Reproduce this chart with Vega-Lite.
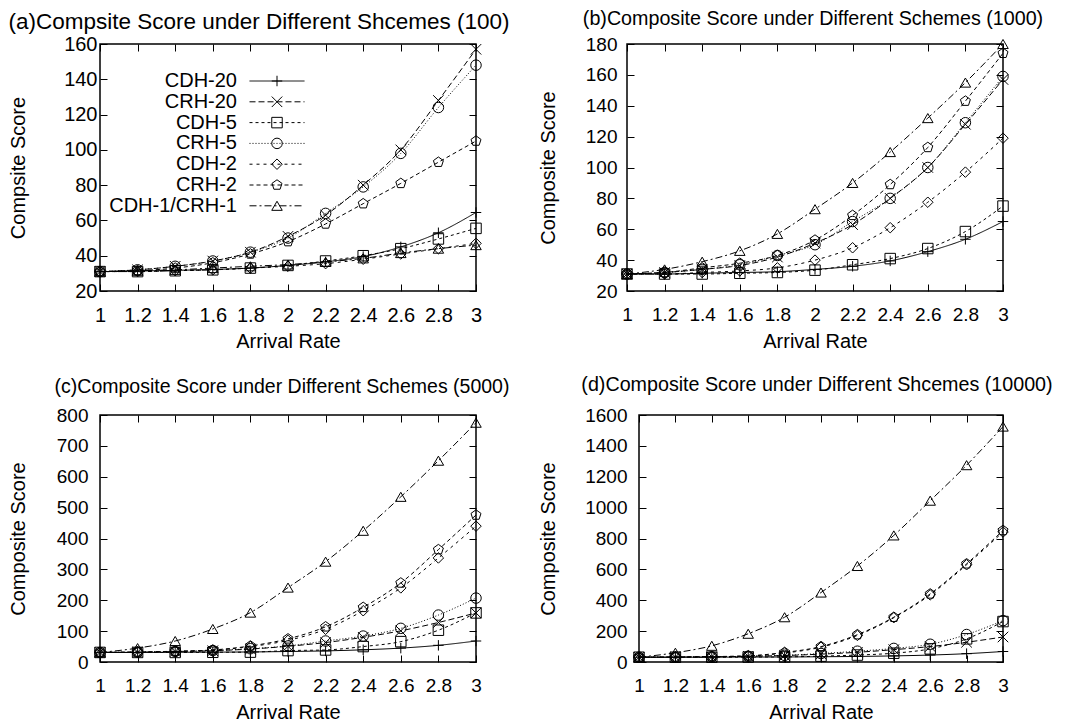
{
 "$schema": "https://vega.github.io/schema/vega-lite/v6.json",
 "padding": {"left": 7, "top": 8, "right": 0, "bottom": 0},
 "background": "white",
 "config": {
  "font": "Liberation Sans",
  "view": {"stroke": "black", "strokeWidth": 1.5},
  "axis": {"domain": false, "grid": false, "ticks": true, "tickSize": -7, "tickColor": "black", "tickWidth": 1, "labelColor": "black", "labelFontSize": 19, "titleColor": "black", "titleFontSize": 20, "titleFontWeight": "normal", "labelFlush": false, "labelOverlap": false},
  "title": {"fontWeight": "normal", "color": "black", "anchor": "middle", "frame": "group", "baseline": "alphabetic"}
 },
 "data": {"values": [
  {"panel":"a","series":"CDH-20","rate":1,"score":31},{"panel":"a","series":"CDH-20","rate":1.2,"score":31.3},{"panel":"a","series":"CDH-20","rate":1.4,"score":31.7},{"panel":"a","series":"CDH-20","rate":1.6,"score":32.2},{"panel":"a","series":"CDH-20","rate":1.8,"score":33},{"panel":"a","series":"CDH-20","rate":2,"score":34.5},{"panel":"a","series":"CDH-20","rate":2.2,"score":36.5},{"panel":"a","series":"CDH-20","rate":2.4,"score":39.5},{"panel":"a","series":"CDH-20","rate":2.6,"score":45},{"panel":"a","series":"CDH-20","rate":2.8,"score":53},{"panel":"a","series":"CDH-20","rate":3,"score":64.5},
  {"panel":"a","series":"CRH-20","rate":1,"score":31},{"panel":"a","series":"CRH-20","rate":1.2,"score":32},{"panel":"a","series":"CRH-20","rate":1.4,"score":34},{"panel":"a","series":"CRH-20","rate":1.6,"score":37},{"panel":"a","series":"CRH-20","rate":1.8,"score":42},{"panel":"a","series":"CRH-20","rate":2,"score":51},{"panel":"a","series":"CRH-20","rate":2.2,"score":63},{"panel":"a","series":"CRH-20","rate":2.4,"score":80},{"panel":"a","series":"CRH-20","rate":2.6,"score":100},{"panel":"a","series":"CRH-20","rate":2.8,"score":128},{"panel":"a","series":"CRH-20","rate":3,"score":157},
  {"panel":"a","series":"CDH-5","rate":1,"score":31},{"panel":"a","series":"CDH-5","rate":1.2,"score":31},{"panel":"a","series":"CDH-5","rate":1.4,"score":31.5},{"panel":"a","series":"CDH-5","rate":1.6,"score":32},{"panel":"a","series":"CDH-5","rate":1.8,"score":33},{"panel":"a","series":"CDH-5","rate":2,"score":34.5},{"panel":"a","series":"CDH-5","rate":2.2,"score":37},{"panel":"a","series":"CDH-5","rate":2.4,"score":40},{"panel":"a","series":"CDH-5","rate":2.6,"score":44},{"panel":"a","series":"CDH-5","rate":2.8,"score":49.5},{"panel":"a","series":"CDH-5","rate":3,"score":55.5},
  {"panel":"a","series":"CRH-5","rate":1,"score":31},{"panel":"a","series":"CRH-5","rate":1.2,"score":32},{"panel":"a","series":"CRH-5","rate":1.4,"score":34},{"panel":"a","series":"CRH-5","rate":1.6,"score":37},{"panel":"a","series":"CRH-5","rate":1.8,"score":42},{"panel":"a","series":"CRH-5","rate":2,"score":50},{"panel":"a","series":"CRH-5","rate":2.2,"score":64},{"panel":"a","series":"CRH-5","rate":2.4,"score":79},{"panel":"a","series":"CRH-5","rate":2.6,"score":98},{"panel":"a","series":"CRH-5","rate":2.8,"score":124},{"panel":"a","series":"CRH-5","rate":3,"score":148},
  {"panel":"a","series":"CDH-2","rate":1,"score":31},{"panel":"a","series":"CDH-2","rate":1.2,"score":31},{"panel":"a","series":"CDH-2","rate":1.4,"score":31.5},{"panel":"a","series":"CDH-2","rate":1.6,"score":32},{"panel":"a","series":"CDH-2","rate":1.8,"score":33},{"panel":"a","series":"CDH-2","rate":2,"score":34},{"panel":"a","series":"CDH-2","rate":2.2,"score":35.5},{"panel":"a","series":"CDH-2","rate":2.4,"score":38},{"panel":"a","series":"CDH-2","rate":2.6,"score":41},{"panel":"a","series":"CDH-2","rate":2.8,"score":44},{"panel":"a","series":"CDH-2","rate":3,"score":47},
  {"panel":"a","series":"CRH-2","rate":1,"score":31},{"panel":"a","series":"CRH-2","rate":1.2,"score":31.5},{"panel":"a","series":"CRH-2","rate":1.4,"score":33},{"panel":"a","series":"CRH-2","rate":1.6,"score":36},{"panel":"a","series":"CRH-2","rate":1.8,"score":41},{"panel":"a","series":"CRH-2","rate":2,"score":48},{"panel":"a","series":"CRH-2","rate":2.2,"score":58},{"panel":"a","series":"CRH-2","rate":2.4,"score":69.5},{"panel":"a","series":"CRH-2","rate":2.6,"score":81},{"panel":"a","series":"CRH-2","rate":2.8,"score":93},{"panel":"a","series":"CRH-2","rate":3,"score":105},
  {"panel":"a","series":"CDH-1/CRH-1","rate":1,"score":31},{"panel":"a","series":"CDH-1/CRH-1","rate":1.2,"score":31.5},{"panel":"a","series":"CDH-1/CRH-1","rate":1.4,"score":32},{"panel":"a","series":"CDH-1/CRH-1","rate":1.6,"score":33},{"panel":"a","series":"CDH-1/CRH-1","rate":1.8,"score":34},{"panel":"a","series":"CDH-1/CRH-1","rate":2,"score":35},{"panel":"a","series":"CDH-1/CRH-1","rate":2.2,"score":36.5},{"panel":"a","series":"CDH-1/CRH-1","rate":2.4,"score":38.5},{"panel":"a","series":"CDH-1/CRH-1","rate":2.6,"score":41.5},{"panel":"a","series":"CDH-1/CRH-1","rate":2.8,"score":44},{"panel":"a","series":"CDH-1/CRH-1","rate":3,"score":46},

  {"panel":"b","series":"CDH-20","rate":1,"score":31},{"panel":"b","series":"CDH-20","rate":1.2,"score":31},{"panel":"b","series":"CDH-20","rate":1.4,"score":31.5},{"panel":"b","series":"CDH-20","rate":1.6,"score":32},{"panel":"b","series":"CDH-20","rate":1.8,"score":32.5},{"panel":"b","series":"CDH-20","rate":2,"score":34},{"panel":"b","series":"CDH-20","rate":2.2,"score":36},{"panel":"b","series":"CDH-20","rate":2.4,"score":39.5},{"panel":"b","series":"CDH-20","rate":2.6,"score":45.5},{"panel":"b","series":"CDH-20","rate":2.8,"score":53.5},{"panel":"b","series":"CDH-20","rate":3,"score":65},
  {"panel":"b","series":"CRH-20","rate":1,"score":31},{"panel":"b","series":"CRH-20","rate":1.2,"score":32},{"panel":"b","series":"CRH-20","rate":1.4,"score":34},{"panel":"b","series":"CRH-20","rate":1.6,"score":36.5},{"panel":"b","series":"CRH-20","rate":1.8,"score":42},{"panel":"b","series":"CRH-20","rate":2,"score":51},{"panel":"b","series":"CRH-20","rate":2.2,"score":63},{"panel":"b","series":"CRH-20","rate":2.4,"score":80},{"panel":"b","series":"CRH-20","rate":2.6,"score":100},{"panel":"b","series":"CRH-20","rate":2.8,"score":128},{"panel":"b","series":"CRH-20","rate":3,"score":157},
  {"panel":"b","series":"CDH-5","rate":1,"score":31},{"panel":"b","series":"CDH-5","rate":1.2,"score":31},{"panel":"b","series":"CDH-5","rate":1.4,"score":31},{"panel":"b","series":"CDH-5","rate":1.6,"score":31.5},{"panel":"b","series":"CDH-5","rate":1.8,"score":32},{"panel":"b","series":"CDH-5","rate":2,"score":33.5},{"panel":"b","series":"CDH-5","rate":2.2,"score":37},{"panel":"b","series":"CDH-5","rate":2.4,"score":41},{"panel":"b","series":"CDH-5","rate":2.6,"score":47.5},{"panel":"b","series":"CDH-5","rate":2.8,"score":58.5},{"panel":"b","series":"CDH-5","rate":3,"score":75},
  {"panel":"b","series":"CRH-5","rate":1,"score":31},{"panel":"b","series":"CRH-5","rate":1.2,"score":32},{"panel":"b","series":"CRH-5","rate":1.4,"score":34},{"panel":"b","series":"CRH-5","rate":1.6,"score":37},{"panel":"b","series":"CRH-5","rate":1.8,"score":43},{"panel":"b","series":"CRH-5","rate":2,"score":50},{"panel":"b","series":"CRH-5","rate":2.2,"score":65},{"panel":"b","series":"CRH-5","rate":2.4,"score":80},{"panel":"b","series":"CRH-5","rate":2.6,"score":100},{"panel":"b","series":"CRH-5","rate":2.8,"score":129},{"panel":"b","series":"CRH-5","rate":3,"score":159},
  {"panel":"b","series":"CDH-2","rate":1,"score":31},{"panel":"b","series":"CDH-2","rate":1.2,"score":31},{"panel":"b","series":"CDH-2","rate":1.4,"score":32},{"panel":"b","series":"CDH-2","rate":1.6,"score":33},{"panel":"b","series":"CDH-2","rate":1.8,"score":35},{"panel":"b","series":"CDH-2","rate":2,"score":40},{"panel":"b","series":"CDH-2","rate":2.2,"score":48},{"panel":"b","series":"CDH-2","rate":2.4,"score":61},{"panel":"b","series":"CDH-2","rate":2.6,"score":77.5},{"panel":"b","series":"CDH-2","rate":2.8,"score":97},{"panel":"b","series":"CDH-2","rate":3,"score":119},
  {"panel":"b","series":"CRH-2","rate":1,"score":31},{"panel":"b","series":"CRH-2","rate":1.2,"score":32},{"panel":"b","series":"CRH-2","rate":1.4,"score":35},{"panel":"b","series":"CRH-2","rate":1.6,"score":38},{"panel":"b","series":"CRH-2","rate":1.8,"score":43},{"panel":"b","series":"CRH-2","rate":2,"score":53},{"panel":"b","series":"CRH-2","rate":2.2,"score":69},{"panel":"b","series":"CRH-2","rate":2.4,"score":89},{"panel":"b","series":"CRH-2","rate":2.6,"score":113},{"panel":"b","series":"CRH-2","rate":2.8,"score":143},{"panel":"b","series":"CRH-2","rate":3,"score":174},
  {"panel":"b","series":"CDH-1/CRH-1","rate":1,"score":31},{"panel":"b","series":"CDH-1/CRH-1","rate":1.2,"score":34},{"panel":"b","series":"CDH-1/CRH-1","rate":1.4,"score":39},{"panel":"b","series":"CDH-1/CRH-1","rate":1.6,"score":46},{"panel":"b","series":"CDH-1/CRH-1","rate":1.8,"score":57},{"panel":"b","series":"CDH-1/CRH-1","rate":2,"score":73},{"panel":"b","series":"CDH-1/CRH-1","rate":2.2,"score":90},{"panel":"b","series":"CDH-1/CRH-1","rate":2.4,"score":110},{"panel":"b","series":"CDH-1/CRH-1","rate":2.6,"score":132},{"panel":"b","series":"CDH-1/CRH-1","rate":2.8,"score":155},{"panel":"b","series":"CDH-1/CRH-1","rate":3,"score":180},

  {"panel":"c","series":"CDH-20","rate":1,"score":31},{"panel":"c","series":"CDH-20","rate":1.2,"score":31},{"panel":"c","series":"CDH-20","rate":1.4,"score":31.5},{"panel":"c","series":"CDH-20","rate":1.6,"score":32},{"panel":"c","series":"CDH-20","rate":1.8,"score":32.5},{"panel":"c","series":"CDH-20","rate":2,"score":34},{"panel":"c","series":"CDH-20","rate":2.2,"score":36},{"panel":"c","series":"CDH-20","rate":2.4,"score":39.5},{"panel":"c","series":"CDH-20","rate":2.6,"score":45},{"panel":"c","series":"CDH-20","rate":2.8,"score":54},{"panel":"c","series":"CDH-20","rate":3,"score":68},
  {"panel":"c","series":"CRH-20","rate":1,"score":31},{"panel":"c","series":"CRH-20","rate":1.2,"score":32},{"panel":"c","series":"CRH-20","rate":1.4,"score":34},{"panel":"c","series":"CRH-20","rate":1.6,"score":36.5},{"panel":"c","series":"CRH-20","rate":1.8,"score":42},{"panel":"c","series":"CRH-20","rate":2,"score":51},{"panel":"c","series":"CRH-20","rate":2.2,"score":63},{"panel":"c","series":"CRH-20","rate":2.4,"score":80},{"panel":"c","series":"CRH-20","rate":2.6,"score":101},{"panel":"c","series":"CRH-20","rate":2.8,"score":128},{"panel":"c","series":"CRH-20","rate":3,"score":159},
  {"panel":"c","series":"CDH-5","rate":1,"score":31},{"panel":"c","series":"CDH-5","rate":1.2,"score":31},{"panel":"c","series":"CDH-5","rate":1.4,"score":31},{"panel":"c","series":"CDH-5","rate":1.6,"score":31.5},{"panel":"c","series":"CDH-5","rate":1.8,"score":32},{"panel":"c","series":"CDH-5","rate":2,"score":37},{"panel":"c","series":"CDH-5","rate":2.2,"score":39},{"panel":"c","series":"CDH-5","rate":2.4,"score":50},{"panel":"c","series":"CDH-5","rate":2.6,"score":66},{"panel":"c","series":"CDH-5","rate":2.8,"score":103},{"panel":"c","series":"CDH-5","rate":3,"score":159},
  {"panel":"c","series":"CRH-5","rate":1,"score":31},{"panel":"c","series":"CRH-5","rate":1.2,"score":32},{"panel":"c","series":"CRH-5","rate":1.4,"score":34},{"panel":"c","series":"CRH-5","rate":1.6,"score":37},{"panel":"c","series":"CRH-5","rate":1.8,"score":43},{"panel":"c","series":"CRH-5","rate":2,"score":52},{"panel":"c","series":"CRH-5","rate":2.2,"score":68},{"panel":"c","series":"CRH-5","rate":2.4,"score":84},{"panel":"c","series":"CRH-5","rate":2.6,"score":109},{"panel":"c","series":"CRH-5","rate":2.8,"score":152},{"panel":"c","series":"CRH-5","rate":3,"score":207},
  {"panel":"c","series":"CDH-2","rate":1,"score":31},{"panel":"c","series":"CDH-2","rate":1.2,"score":32},{"panel":"c","series":"CDH-2","rate":1.4,"score":34},{"panel":"c","series":"CDH-2","rate":1.6,"score":38},{"panel":"c","series":"CDH-2","rate":1.8,"score":50},{"panel":"c","series":"CDH-2","rate":2,"score":70},{"panel":"c","series":"CDH-2","rate":2.2,"score":106},{"panel":"c","series":"CDH-2","rate":2.4,"score":166},{"panel":"c","series":"CDH-2","rate":2.6,"score":240},{"panel":"c","series":"CDH-2","rate":2.8,"score":337},{"panel":"c","series":"CDH-2","rate":3,"score":440},
  {"panel":"c","series":"CRH-2","rate":1,"score":31},{"panel":"c","series":"CRH-2","rate":1.2,"score":32},{"panel":"c","series":"CRH-2","rate":1.4,"score":35},{"panel":"c","series":"CRH-2","rate":1.6,"score":39},{"panel":"c","series":"CRH-2","rate":1.8,"score":52},{"panel":"c","series":"CRH-2","rate":2,"score":75},{"panel":"c","series":"CRH-2","rate":2.2,"score":114},{"panel":"c","series":"CRH-2","rate":2.4,"score":177},{"panel":"c","series":"CRH-2","rate":2.6,"score":256},{"panel":"c","series":"CRH-2","rate":2.8,"score":364},{"panel":"c","series":"CRH-2","rate":3,"score":476},
  {"panel":"c","series":"CDH-1/CRH-1","rate":1,"score":31},{"panel":"c","series":"CDH-1/CRH-1","rate":1.2,"score":45},{"panel":"c","series":"CDH-1/CRH-1","rate":1.4,"score":68},{"panel":"c","series":"CDH-1/CRH-1","rate":1.6,"score":107},{"panel":"c","series":"CDH-1/CRH-1","rate":1.8,"score":160},{"panel":"c","series":"CDH-1/CRH-1","rate":2,"score":241},{"panel":"c","series":"CDH-1/CRH-1","rate":2.2,"score":325},{"panel":"c","series":"CDH-1/CRH-1","rate":2.4,"score":425},{"panel":"c","series":"CDH-1/CRH-1","rate":2.6,"score":535},{"panel":"c","series":"CDH-1/CRH-1","rate":2.8,"score":652},{"panel":"c","series":"CDH-1/CRH-1","rate":3,"score":775},

  {"panel":"d","series":"CDH-20","rate":1,"score":31},{"panel":"d","series":"CDH-20","rate":1.2,"score":31},{"panel":"d","series":"CDH-20","rate":1.4,"score":31.5},{"panel":"d","series":"CDH-20","rate":1.6,"score":32},{"panel":"d","series":"CDH-20","rate":1.8,"score":32.5},{"panel":"d","series":"CDH-20","rate":2,"score":34},{"panel":"d","series":"CDH-20","rate":2.2,"score":36},{"panel":"d","series":"CDH-20","rate":2.4,"score":39.5},{"panel":"d","series":"CDH-20","rate":2.6,"score":45},{"panel":"d","series":"CDH-20","rate":2.8,"score":54},{"panel":"d","series":"CDH-20","rate":3,"score":68},
  {"panel":"d","series":"CRH-20","rate":1,"score":31},{"panel":"d","series":"CRH-20","rate":1.2,"score":32},{"panel":"d","series":"CRH-20","rate":1.4,"score":34},{"panel":"d","series":"CRH-20","rate":1.6,"score":37},{"panel":"d","series":"CRH-20","rate":1.8,"score":42},{"panel":"d","series":"CRH-20","rate":2,"score":51},{"panel":"d","series":"CRH-20","rate":2.2,"score":63},{"panel":"d","series":"CRH-20","rate":2.4,"score":80},{"panel":"d","series":"CRH-20","rate":2.6,"score":100},{"panel":"d","series":"CRH-20","rate":2.8,"score":128},{"panel":"d","series":"CRH-20","rate":3,"score":162},
  {"panel":"d","series":"CDH-5","rate":1,"score":31},{"panel":"d","series":"CDH-5","rate":1.2,"score":31},{"panel":"d","series":"CDH-5","rate":1.4,"score":31},{"panel":"d","series":"CDH-5","rate":1.6,"score":32},{"panel":"d","series":"CDH-5","rate":1.8,"score":33},{"panel":"d","series":"CDH-5","rate":2,"score":38},{"panel":"d","series":"CDH-5","rate":2.2,"score":45},{"panel":"d","series":"CDH-5","rate":2.4,"score":57},{"panel":"d","series":"CDH-5","rate":2.6,"score":85},{"panel":"d","series":"CDH-5","rate":2.8,"score":150},{"panel":"d","series":"CDH-5","rate":3,"score":262},
  {"panel":"d","series":"CRH-5","rate":1,"score":31},{"panel":"d","series":"CRH-5","rate":1.2,"score":32},{"panel":"d","series":"CRH-5","rate":1.4,"score":34},{"panel":"d","series":"CRH-5","rate":1.6,"score":37},{"panel":"d","series":"CRH-5","rate":1.8,"score":43},{"panel":"d","series":"CRH-5","rate":2,"score":55},{"panel":"d","series":"CRH-5","rate":2.2,"score":70},{"panel":"d","series":"CRH-5","rate":2.4,"score":88},{"panel":"d","series":"CRH-5","rate":2.6,"score":115},{"panel":"d","series":"CRH-5","rate":2.8,"score":178},{"panel":"d","series":"CRH-5","rate":3,"score":268},
  {"panel":"d","series":"CDH-2","rate":1,"score":31},{"panel":"d","series":"CDH-2","rate":1.2,"score":32},{"panel":"d","series":"CDH-2","rate":1.4,"score":34},{"panel":"d","series":"CDH-2","rate":1.6,"score":39},{"panel":"d","series":"CDH-2","rate":1.8,"score":58},{"panel":"d","series":"CDH-2","rate":2,"score":96},{"panel":"d","series":"CDH-2","rate":2.2,"score":172},{"panel":"d","series":"CDH-2","rate":2.4,"score":287},{"panel":"d","series":"CDH-2","rate":2.6,"score":435},{"panel":"d","series":"CDH-2","rate":2.8,"score":630},{"panel":"d","series":"CDH-2","rate":3,"score":842},
  {"panel":"d","series":"CRH-2","rate":1,"score":31},{"panel":"d","series":"CRH-2","rate":1.2,"score":32},{"panel":"d","series":"CRH-2","rate":1.4,"score":35},{"panel":"d","series":"CRH-2","rate":1.6,"score":40},{"panel":"d","series":"CRH-2","rate":1.8,"score":62},{"panel":"d","series":"CRH-2","rate":2,"score":100},{"panel":"d","series":"CRH-2","rate":2.2,"score":177},{"panel":"d","series":"CRH-2","rate":2.4,"score":290},{"panel":"d","series":"CRH-2","rate":2.6,"score":441},{"panel":"d","series":"CRH-2","rate":2.8,"score":636},{"panel":"d","series":"CRH-2","rate":3,"score":852},
  {"panel":"d","series":"CDH-1/CRH-1","rate":1,"score":31},{"panel":"d","series":"CDH-1/CRH-1","rate":1.2,"score":60},{"panel":"d","series":"CDH-1/CRH-1","rate":1.4,"score":105},{"panel":"d","series":"CDH-1/CRH-1","rate":1.6,"score":183},{"panel":"d","series":"CDH-1/CRH-1","rate":1.8,"score":290},{"panel":"d","series":"CDH-1/CRH-1","rate":2,"score":450},{"panel":"d","series":"CDH-1/CRH-1","rate":2.2,"score":622},{"panel":"d","series":"CDH-1/CRH-1","rate":2.4,"score":820},{"panel":"d","series":"CDH-1/CRH-1","rate":2.6,"score":1045},{"panel":"d","series":"CDH-1/CRH-1","rate":2.8,"score":1275},{"panel":"d","series":"CDH-1/CRH-1","rate":3,"score":1525}
 ]},
 "spacing": 22,
 "resolve": {"scale": {"strokeDash": "independent", "shape": "independent"}},
 "vconcat": [
  {
   "spacing": 26,
   "resolve": {"scale": {"strokeDash": "independent", "shape": "independent"}},
   "hconcat": [
    {
     "width": 376, "height": 247,
     "title": {"text": "(a)Compsite Score under Different Shcemes (100)", "fontSize": 22.5, "dx": -29, "offset": 1},
     "transform": [{"filter": "datum.panel === 'a'"}],
     "layer": [
      {
       "mark": {"type": "line", "interpolate": "monotone", "stroke": "black", "strokeWidth": 1},
       "encoding": {
        "x": {"field": "rate", "type": "quantitative", "scale": {"domain": [1, 3], "nice": false, "zero": false},
              "axis": {"orient": "bottom", "values": [1,1.2,1.4,1.6,1.8,2,2.2,2.4,2.6,2.8,3], "format": "~g", "title": "Arrival Rate", "titleY": 50, "titleBaseline": "middle", "labelPadding": 21.6, "labelFontSize": 20}},
        "y": {"field": "score", "type": "quantitative", "scale": {"domain": [20, 160], "nice": false, "zero": false},
              "axis": {"orient": "left", "values": [20,40,60,80,100,120,140,160], "format": "d", "title": "Compsite Score", "titleX": -82, "titleBaseline": "middle", "labelPadding": 10, "labelFontSize": 20}},
        "strokeDash": {"field": "series", "type": "nominal",
          "scale": {"domain": ["CDH-20","CRH-20","CDH-5","CRH-5","CDH-2","CRH-2","CDH-1/CRH-1"], "range": [[1,0],[6,3],[3,3],[1,2],[3,4],[4,3],[7,3,2,3]]},
          "legend": {"orient": "none", "legendX": 167, "legendY": 27, "title": null, "symbolType": "M-5,0H5", "symbolSize": 121, "symbolStrokeColor": "black", "symbolStrokeWidth": 1, "labelAlign": "right", "labelOffset": -50, "labelFontSize": 20, "labelColor": "black", "labelLimit": 300, "rowPadding": 0.8, "padding": 0}}
       }
      },
      {
       "mark": {"type": "point", "filled": false, "stroke": "black", "strokeWidth": 1, "size": 110, "opacity": 1},
       "encoding": {
        "x": {"field": "rate", "type": "quantitative", "axis": {"orient": "top", "values": [1,1.2,1.4,1.6,1.8,2,2.2,2.4,2.6,2.8,3], "labels": false, "title": null}},
        "y": {"field": "score", "type": "quantitative", "axis": {"orient": "right", "values": [20,40,60,80,100,120,140,160], "labels": false, "title": null}},
        "shape": {"field": "series", "type": "nominal",
          "scale": {"domain": ["CDH-20","CRH-20","CDH-5","CRH-5","CDH-2","CRH-2","CDH-1/CRH-1"], "range": ["M-1,0H1M0,-1V1","M-1,-1L1,1M-1,1L1,-1","square","circle","diamond","M0,-1L0.951,-0.309L0.588,0.809L-0.588,0.809L-0.951,-0.309Z","triangle-up"]},
          "legend": {"orient": "top-left", "offset": 27, "title": null, "symbolSize": 110, "symbolStrokeColor": "black", "symbolStrokeWidth": 1, "symbolFillColor": "transparent", "symbolOffset": 140, "labelFontSize": 20, "labelOpacity": 0, "rowPadding": 0.8, "padding": 0}}
       }
      }
     ]
    },
    {
     "width": 376, "height": 247,
     "title": {"text": "(b)Composite Score under Different Schemes (1000)", "fontSize": 19.7, "dx": -2, "offset": 6},
     "transform": [{"filter": "datum.panel === 'b'"}],
     "layer": [
      {
       "mark": {"type": "line", "interpolate": "monotone", "stroke": "black", "strokeWidth": 1},
       "encoding": {
        "x": {"field": "rate", "type": "quantitative", "scale": {"domain": [1, 3], "nice": false, "zero": false},
              "axis": {"orient": "bottom", "values": [1,1.2,1.4,1.6,1.8,2,2.2,2.4,2.6,2.8,3], "format": "~g", "title": "Arrival Rate", "titleY": 50, "titleBaseline": "middle", "labelPadding": 21.6}},
        "y": {"field": "score", "type": "quantitative", "scale": {"domain": [20, 180], "nice": false, "zero": false},
              "axis": {"orient": "left", "values": [20,40,60,80,100,120,140,160,180], "format": "d", "title": "Composite Score", "titleX": -79, "titleBaseline": "middle", "labelPadding": 17}},
        "strokeDash": {"field": "series", "type": "nominal",
          "scale": {"domain": ["CDH-20","CRH-20","CDH-5","CRH-5","CDH-2","CRH-2","CDH-1/CRH-1"], "range": [[1,0],[6,3],[3,3],[1,2],[3,4],[4,3],[7,3,2,3]]},
          "legend": null}
       }
      },
      {
       "mark": {"type": "point", "filled": false, "stroke": "black", "strokeWidth": 1, "size": 110, "opacity": 1},
       "encoding": {
        "x": {"field": "rate", "type": "quantitative", "axis": {"orient": "top", "values": [1,1.2,1.4,1.6,1.8,2,2.2,2.4,2.6,2.8,3], "labels": false, "title": null}},
        "y": {"field": "score", "type": "quantitative", "axis": {"orient": "right", "values": [20,40,60,80,100,120,140,160,180], "labels": false, "title": null}},
        "shape": {"field": "series", "type": "nominal",
          "scale": {"domain": ["CDH-20","CRH-20","CDH-5","CRH-5","CDH-2","CRH-2","CDH-1/CRH-1"], "range": ["M-1,0H1M0,-1V1","M-1,-1L1,1M-1,1L1,-1","square","circle","diamond","M0,-1L0.951,-0.309L0.588,0.809L-0.588,0.809L-0.951,-0.309Z","triangle-up"]},
          "legend": null}
       }
      }
     ]
    }
   ]
  },
  {
   "spacing": 26,
   "resolve": {"scale": {"strokeDash": "independent", "shape": "independent"}},
   "hconcat": [
    {
     "width": 376, "height": 247,
     "title": {"text": "(c)Composite Score under Different Schemes (5000)", "fontSize": 19.5, "dx": -6, "offset": 9},
     "transform": [{"filter": "datum.panel === 'c'"}],
     "layer": [
      {
       "mark": {"type": "line", "interpolate": "monotone", "stroke": "black", "strokeWidth": 1},
       "encoding": {
        "x": {"field": "rate", "type": "quantitative", "scale": {"domain": [1, 3], "nice": false, "zero": false},
              "axis": {"orient": "bottom", "values": [1,1.2,1.4,1.6,1.8,2,2.2,2.4,2.6,2.8,3], "format": "~g", "title": "Arrival Rate", "titleY": 50, "titleBaseline": "middle", "labelPadding": 21.6}},
        "y": {"field": "score", "type": "quantitative", "scale": {"domain": [0, 800], "nice": false, "zero": false},
              "axis": {"orient": "left", "values": [0,100,200,300,400,500,600,700,800], "format": "d", "title": "Composite Score", "titleX": -82, "titleBaseline": "middle", "labelPadding": 19}},
        "strokeDash": {"field": "series", "type": "nominal",
          "scale": {"domain": ["CDH-20","CRH-20","CDH-5","CRH-5","CDH-2","CRH-2","CDH-1/CRH-1"], "range": [[1,0],[6,3],[3,3],[1,2],[3,4],[4,3],[7,3,2,3]]},
          "legend": null}
       }
      },
      {
       "mark": {"type": "point", "filled": false, "stroke": "black", "strokeWidth": 1, "size": 110, "opacity": 1},
       "encoding": {
        "x": {"field": "rate", "type": "quantitative", "axis": {"orient": "top", "values": [1,1.2,1.4,1.6,1.8,2,2.2,2.4,2.6,2.8,3], "labels": false, "title": null}},
        "y": {"field": "score", "type": "quantitative", "axis": {"orient": "right", "values": [0,100,200,300,400,500,600,700,800], "labels": false, "title": null}},
        "shape": {"field": "series", "type": "nominal",
          "scale": {"domain": ["CDH-20","CRH-20","CDH-5","CRH-5","CDH-2","CRH-2","CDH-1/CRH-1"], "range": ["M-1,0H1M0,-1V1","M-1,-1L1,1M-1,1L1,-1","square","circle","diamond","M0,-1L0.951,-0.309L0.588,0.809L-0.588,0.809L-0.951,-0.309Z","triangle-up"]},
          "legend": null}
       }
      }
     ]
    },
    {
     "width": 364, "height": 247,
     "title": {"text": "(d)Composite Score under Different Shcemes (10000)", "fontSize": 19.7, "dx": -4, "offset": 11},
     "transform": [{"filter": "datum.panel === 'd'"}],
     "layer": [
      {
       "mark": {"type": "line", "interpolate": "monotone", "stroke": "black", "strokeWidth": 1},
       "encoding": {
        "x": {"field": "rate", "type": "quantitative", "scale": {"domain": [1, 3], "nice": false, "zero": false},
              "axis": {"orient": "bottom", "values": [1,1.2,1.4,1.6,1.8,2,2.2,2.4,2.6,2.8,3], "format": "~g", "title": "Arrival Rate", "titleY": 50, "titleBaseline": "middle", "labelPadding": 21.6}},
        "y": {"field": "score", "type": "quantitative", "scale": {"domain": [0, 1600], "nice": false, "zero": false},
              "axis": {"orient": "left", "values": [0,200,400,600,800,1000,1200,1400,1600], "format": "d", "title": "Composite Score", "titleX": -91, "titleBaseline": "middle", "labelPadding": 19}},
        "strokeDash": {"field": "series", "type": "nominal",
          "scale": {"domain": ["CDH-20","CRH-20","CDH-5","CRH-5","CDH-2","CRH-2","CDH-1/CRH-1"], "range": [[1,0],[6,3],[3,3],[1,2],[3,4],[4,3],[7,3,2,3]]},
          "legend": null}
       }
      },
      {
       "mark": {"type": "point", "filled": false, "stroke": "black", "strokeWidth": 1, "size": 110, "opacity": 1},
       "encoding": {
        "x": {"field": "rate", "type": "quantitative", "axis": {"orient": "top", "values": [1,1.2,1.4,1.6,1.8,2,2.2,2.4,2.6,2.8,3], "labels": false, "title": null}},
        "y": {"field": "score", "type": "quantitative", "axis": {"orient": "right", "values": [0,200,400,600,800,1000,1200,1400,1600], "labels": false, "title": null}},
        "shape": {"field": "series", "type": "nominal",
          "scale": {"domain": ["CDH-20","CRH-20","CDH-5","CRH-5","CDH-2","CRH-2","CDH-1/CRH-1"], "range": ["M-1,0H1M0,-1V1","M-1,-1L1,1M-1,1L1,-1","square","circle","diamond","M0,-1L0.951,-0.309L0.588,0.809L-0.588,0.809L-0.951,-0.309Z","triangle-up"]},
          "legend": null}
       }
      }
     ]
    }
   ]
  }
 ]
}
